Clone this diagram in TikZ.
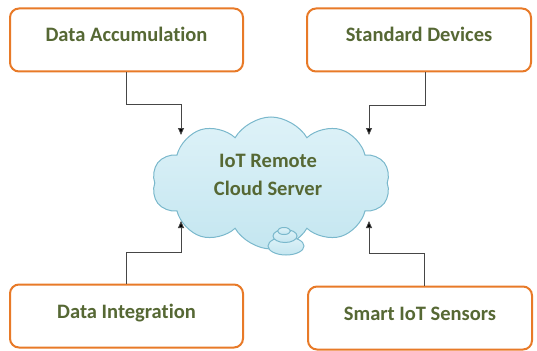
\documentclass[tikz,border=0pt]{standalone}
\usepackage{fontspec}
\setmainfont[Ligatures=NoCommon]{Carlito}
\usetikzlibrary{shapes.symbols,arrows.meta}
\definecolor{boxline}{RGB}{232,122,40}
\definecolor{txtgreen}{RGB}{86,104,52}
\definecolor{cloudfill}{RGB}{196,230,240}
\definecolor{cloudtop}{RGB}{222,242,248}
\definecolor{cloudline}{RGB}{122,184,204}
\definecolor{wire}{RGB}{70,70,70}
\tikzset{
  x=1pt, y=-1pt,
  topicbox/.style={draw=boxline, line width=2pt, rounded corners=9pt, fill=white,
    minimum width=233pt, minimum height=63pt, font=\bfseries\fontsize{20.5}{22}\selectfont,
    text=txtgreen, text height=17pt, text depth=13pt, inner sep=0pt},
  cloudtxt/.style={font=\bfseries\fontsize{20.5}{28}\selectfont, text=txtgreen, align=center},
  link/.style={draw=wire, line width=0.9pt, -{Triangle[length=7pt,width=6pt,fill=black]}},
  bubble/.style={draw=cloudline, line width=1pt, top color=cloudtop, bottom color=cloudfill}
}
\begin{document}
\begin{tikzpicture}
\useasboundingbox (0,0) rectangle (537,350);

% cloud server
\node[cloud, cloud puffs=10, cloud puff arc=120, aspect=1.9, draw=cloudline, line width=1pt,
      top color=cloudtop, bottom color=cloudfill, minimum width=238pt, minimum height=132pt,
      inner sep=0pt] (cloud) at (271,183) {};
\draw[bubble] (286,246) ellipse [x radius=18pt, y radius=9pt];
\draw[bubble] (285,236) ellipse [x radius=12pt, y radius=6.5pt];
\draw[bubble] (284,231) ellipse [x radius=6.5pt, y radius=3.5pt];
\node[cloudtxt] (ctext) at (268,175) {IoT Remote\\Cloud Server};

% surrounding boxes
\node[topicbox] (acc) at (126.5,40) {Data Accumulation};
\node[topicbox, minimum width=224pt] (std) at (419,40) {Standard Devices};
\node[topicbox] (integ) at (126.5,316) {Data Integration};
\node[topicbox, minimum width=224pt] (sens) at (420,318) {Smart IoT Sensors};

% arrow ends on the cloud outline
\coordinate (eAcc) at (181,135);
\coordinate (eStd) at (369,135);
\coordinate (eInt) at (181,221);
\coordinate (eSen) at (369,221);

\draw[link] (acc.south) |- (eAcc |- 0,104) -- (eAcc);
\draw[link] (std.south -| 425,0) |- (eStd |- 0,105) -- (eStd);
\draw[link] (integ.north) |- (eInt |- 0,252) -- (eInt);
\draw[link] (sens.north -| 424,0) |- (eSen |- 0,253) -- (eSen);
\end{tikzpicture}
\end{document}
